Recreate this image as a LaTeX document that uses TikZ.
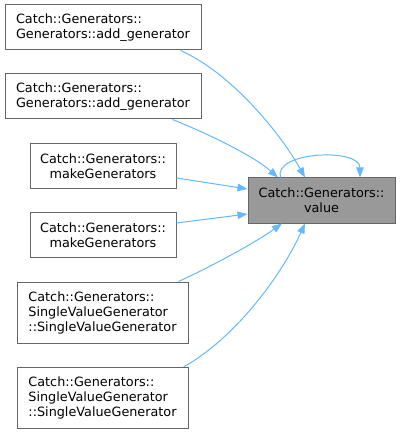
\documentclass[tikz,border=0pt]{standalone}
\usepackage{fontspec}
\setmainfont{DejaVu Sans}
\usetikzlibrary{arrows.meta,calc}
\definecolor{edgeblue}{HTML}{63B8FF}
\definecolor{boxborder}{HTML}{666666}
\definecolor{targetfill}{HTML}{999999}
\begin{document}
\begin{tikzpicture}[x=1pt,y=-1pt,
  box/.style={draw=boxborder,line width=1pt,fill=white,inner sep=0pt,
    font=\fontsize{12.8}{15}\selectfont,text=black},
  lbox/.style={box,align=left},
  cbox/.style={box,align=center},
  edge/.style={draw=edgeblue,line width=1pt,-{Triangle[length=10pt,width=7.5pt]}}]
\useasboundingbox (0,0) rectangle (400,435);
\node[lbox,minimum width=196pt,minimum height=45pt] (b1) at (103,27.5) {Catch::Generators::\\Generators::add\_generator};
\node[lbox,minimum width=196pt,minimum height=45pt] (b2) at (103,96.5) {Catch::Generators::\\Generators::add\_generator};
\node[cbox,minimum width=146pt,minimum height=45pt] (b3) at (103,166.5) {Catch::Generators::\\makeGenerators};
\node[cbox,minimum width=146pt,minimum height=45pt] (b4) at (103,235) {Catch::Generators::\\makeGenerators};
\node[lbox,minimum width=171pt,minimum height=61pt] (b5) at (102.5,312.5) {Catch::Generators::\\SingleValueGenerator\\::SingleValueGenerator};
\node[lbox,minimum width=171pt,minimum height=61pt] (b6) at (102.5,398) {Catch::Generators::\\SingleValueGenerator\\::SingleValueGenerator};
\node[cbox,fill=targetfill,minimum width=147pt,minimum height=45pt] (t) at (321.5,200.5) {Catch::Generators::\\value};
% edges
\draw[edge] ([xshift=-21pt]b1.south east) .. controls ($([xshift=-21pt]b1.south east)+(50,22)$) and ($([xshift=-16.5pt]t.north)+(-25,-45)$) .. ([xshift=-16.5pt]t.north);
\draw[edge] ([xshift=-29pt]b2.south east) .. controls ($([xshift=-29pt]b2.south east)+(35,14)$) and ($([xshift=-43.5pt]t.north)+(-25,-22)$) .. ([xshift=-43.5pt]t.north);
\draw[edge] ([yshift=-11.5pt]b3.east) -- ([yshift=11.5pt]t.west);
\draw[edge] ([yshift=12pt]b4.east) -- ([yshift=-13.5pt]t.west);
\draw[edge] ([xshift=-10pt]b5.north east) .. controls ($([xshift=-10pt]b5.north east)+(35,-16)$) and ($([xshift=-39.5pt]t.south)+(-25,18)$) .. ([xshift=-39.5pt]t.south);
\draw[edge] ([xshift=-5pt]b6.north east) .. controls ($([xshift=-5pt]b6.north east)+(50,-28)$) and ($([xshift=-16.5pt]t.south)+(-25,55)$) .. ([xshift=-16.5pt]t.south);
\draw[edge] ([xshift=-41pt]t.north) .. controls ($([xshift=-41pt]t.north)+(-8,-26)$) and ($([xshift=38.5pt]t.north)+(0,-30)$) .. ([xshift=38.5pt]t.north);
\end{tikzpicture}
\end{document}
